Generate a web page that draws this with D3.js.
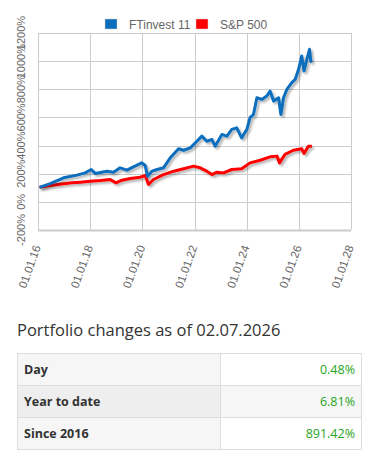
<!DOCTYPE html>
<html>
<head>
<meta charset="utf-8">
<script src="https://cdn.jsdelivr.net/npm/d3@7"></script>
<style>
  body { margin: 0; background: #fff; width: 372px; height: 468px; overflow: hidden; position: relative; }
  #chart { position: absolute; left: 0; top: 0; }
  .title { position: absolute; left: 17px; top: 318px; font-family: "Open Sans", sans-serif; font-size: 16.5px; color: #333; white-space: nowrap; }
  table { position: absolute; left: 17px; top: 353px; width: 345px; border-collapse: collapse; font-family: "Open Sans", sans-serif; font-size: 12.5px; }
  td { height: 31px; padding: 0 6px; border: 1px solid #ddd; }
  td.lab { font-weight: bold; color: #333; width: 190px; border-right: 1px dotted #ccc; }
  td.val { text-align: right; color: #26a526; }
</style>
</head>
<body>
<svg id="chart" width="372" height="310"></svg>
<div class="title"></div>
<table id="stats"></table>
<script>
// series (value = 100 + % gain)
const ftDates = ["2016-01-22","2016-06-20","2016-12-24","2017-06-28","2017-10-23","2018-01-15","2018-03-14","2018-08-22","2018-11-24","2019-02-24","2019-05-30","2019-08-29","2019-12-24","2020-02-10","2020-03-14","2020-05-15","2020-07-24","2020-10-23","2021-01-26","2021-05-23","2021-07-31","2021-11-03","2022-02-03","2022-04-13","2022-06-21","2022-09-02","2022-10-16","2023-01-19","2023-03-29","2023-06-07","2023-08-15","2023-10-23","2024-01-04","2024-02-17","2024-04-05","2024-05-23","2024-07-31","2024-10-08","2024-11-24","2025-01-12","2025-03-23","2025-04-24","2025-05-31","2025-07-17","2025-09-24","2025-11-10","2025-12-28","2026-02-10","2026-03-14","2026-04-23","2026-05-30","2026-06-17","2026-07-02"];
const ftValues = [103,130,171,190,206,230,201,218,211,242,225,249,277,258,182,218,230,242,313,377,367,384,431,467,431,443,396,479,467,515,526,455,515,598,621,740,728,752,787,716,740,621,740,799,847,870,942,1036,930,1013,1084,1001,991];

const spDates = ["2016-01-22","2016-06-20","2016-12-24","2017-04-20","2017-08-15","2018-01-01","2018-05-22","2018-10-08","2018-12-28","2019-03-20","2019-07-15","2019-12-01","2020-02-10","2020-03-28","2020-06-05","2020-10-23","2021-03-14","2021-07-31","2021-12-20","2022-03-20","2022-06-21","2022-09-02","2022-11-10","2023-02-10","2023-06-07","2023-10-23","2024-02-17","2024-07-08","2024-11-24","2025-02-28","2025-04-05","2025-06-21","2025-10-15","2026-02-10","2026-03-14","2026-05-15","2026-07-02"];
const spValues = [103,116,128,135,140,147,152,159,135,154,166,175,187,123,159,194,218,235,254,242,218,194,211,206,230,235,277,296,320,325,277,337,367,377,344,396,396];

const seriesNames = ["FTinvest 11", "S&P 500"];
const seriesColors = ["#0a6ebd", "#ff0000"];
const yTicks = [-200, 0, 200, 400, 600, 800, 1000, 1200];
const xTickYears = [2016, 2018, 2020, 2022, 2024, 2026, 2028];

const statLabels = ["Day", "Year to date", "Since 2016"];
const statValues = ["0.48%", "6.81%", "891.42%"];
const titleText = "Portfolio changes as of 02.07.2026";

const parse = d3.timeParse("%Y-%m-%d");
const series = [
  ftDates.map((d, i) => ({ date: parse(d), value: ftValues[i] })),
  spDates.map((d, i) => ({ date: parse(d), value: spValues[i] }))
];

const svg = d3.select("#chart");
const plot = { left: 38, right: 351, top: 33, bottom: 230 };

const x = d3.scaleTime()
  .domain([new Date(2016, 0, 1), new Date(2028, 0, 1)])
  .range([plot.left, plot.right]);
const y = d3.scaleLinear()
  .domain([-200, 1200])
  .range([plot.bottom, plot.top]);

const defs = svg.append("defs");
defs.append("filter").attr("id", "shadow")
  .attr("x", "-5%").attr("y", "-5%").attr("width", "110%").attr("height", "120%")
  .append("feDropShadow")
    .attr("dx", 2).attr("dy", 2).attr("stdDeviation", 1)
    .attr("flood-color", "#000").attr("flood-opacity", 0.3);

// grid
const xTicks = xTickYears.map(yr => new Date(yr, 0, 1));
svg.append("g").selectAll("line")
  .data(yTicks)
  .enter().append("line")
    .attr("x1", plot.left).attr("x2", plot.right)
    .attr("y1", d => Math.round(y(d)) + 0.5).attr("y2", d => Math.round(y(d)) + 0.5)
    .attr("stroke", "#ccc").attr("stroke-width", 1);
svg.append("g").selectAll("line")
  .data(xTicks)
  .enter().append("line")
    .attr("x1", d => Math.round(x(d)) + 0.5).attr("x2", d => Math.round(x(d)) + 0.5)
    .attr("y1", plot.top).attr("y2", plot.bottom)
    .attr("stroke", "#ccc").attr("stroke-width", 1);
svg.append("line")
  .attr("x1", plot.left).attr("x2", plot.right)
  .attr("y1", plot.bottom + 0.5).attr("y2", plot.bottom + 0.5)
  .attr("stroke", "#ccc").attr("stroke-width", 2);

// y labels
svg.append("g").selectAll("text")
  .data(yTicks)
  .enter().append("text")
    .attr("transform", d => "translate(25," + y(d) + ") rotate(-90)")
    .attr("text-anchor", "middle")
    .style("font-family", "Liberation Sans, Arial, sans-serif")
    .style("font-size", "11px")
    .style("fill", "#666")
    .text(d => d + "%");

// x labels
const fmt = d3.timeFormat("%d.%m.%y");
svg.append("g").selectAll("text")
  .data(xTicks)
  .enter().append("text")
    .attr("transform", d => "translate(" + (x(d) + 3) + ",247) rotate(-70)")
    .attr("text-anchor", "end")
    .style("font-family", "Liberation Sans, Arial, sans-serif")
    .style("font-size", "11.5px")
    .style("fill", "#666")
    .text(d => fmt(d));

// lines
const line = d3.line()
  .x(d => x(d.date))
  .y(d => y(d.value));

svg.append("g").selectAll("path")
  .data(series.slice().reverse())
  .enter().append("path")
    .attr("d", line)
    .attr("fill", "none")
    .attr("stroke", (d, i) => seriesColors[1 - i])
    .attr("stroke-width", 3)
    .attr("stroke-linejoin", "round")
    .attr("filter", "url(#shadow)");

// legend
const legendX = [105, 196];
const lg = svg.append("g").selectAll("g")
  .data(seriesNames)
  .enter().append("g")
    .attr("transform", (d, i) => "translate(" + legendX[i] + ",19)");
lg.append("rect")
  .attr("width", 12).attr("height", 10)
  .attr("fill", (d, i) => seriesColors[i])
  .attr("stroke", "#ccc").attr("stroke-width", 0.5);
lg.append("text")
  .attr("x", 24).attr("y", 9.5)
  .style("font-family", "Liberation Sans, Arial, sans-serif")
  .style("font-size", "12px")
  .style("fill", "#666")
  .text(d => d);

// stats table
d3.select(".title").text(titleText);
const rows = d3.select("#stats").selectAll("tr")
  .data(statLabels)
  .enter().append("tr");
rows.append("td").attr("class", "lab")
  .style("background", (d, i) => i === 1 ? "#eeeeee" : "#f6f6f6")
  .text(d => d);
rows.append("td").attr("class", "val")
  .style("background", (d, i) => i === 1 ? "#f6f6f6" : "#fff")
  .text((d, i) => statValues[i]);
</script>
</body>
</html>
